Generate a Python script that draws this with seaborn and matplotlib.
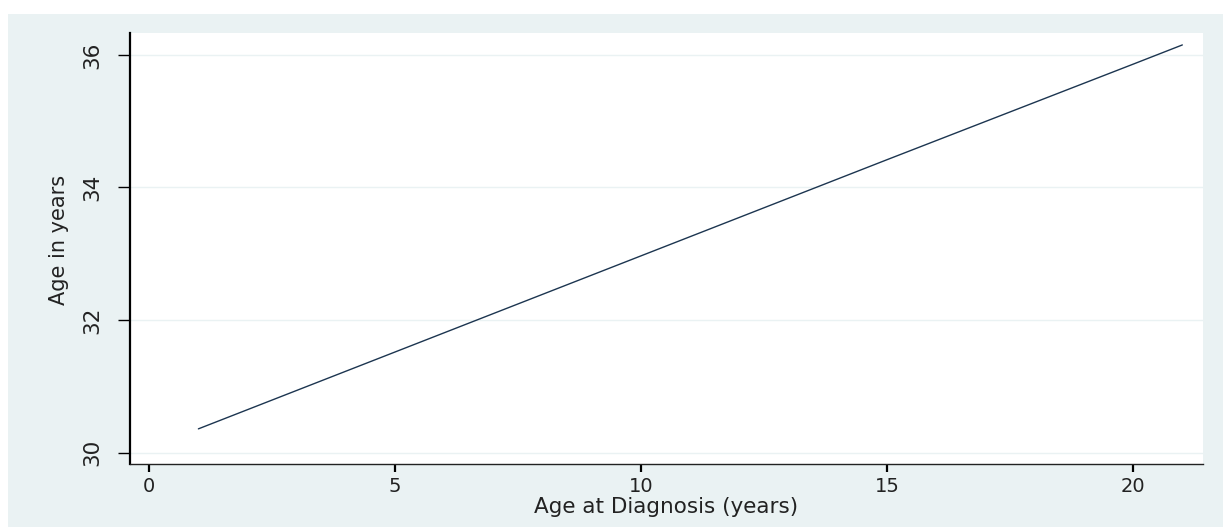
import numpy as np
import pandas as pd
import matplotlib.pyplot as plt
import seaborn as sns
from matplotlib.patches import Rectangle

# ==============================
# Data
# ==============================
age_at_diagnosis = [1, 5, 10, 15, 20, 21]
age_in_years = [30.36, 31.52, 32.97, 34.42, 35.86, 36.15]
x_ticks = [0, 5, 10, 15, 20]
y_ticks = [30, 32, 34, 36]

df = pd.DataFrame({"diag": age_at_diagnosis, "age": age_in_years})

# ==============================
# Style
# ==============================
sns.set_style("white")
plt.rcParams['font.family'] = ['DejaVu Sans']

bg = "#eaf2f3"
fig = plt.figure(figsize=(12.23, 5.27), dpi=100, facecolor="white")
# Stata-like graph region (white strip on top and left), behind the axes
fig.patches.append(Rectangle((8 / 1223, 0), 1, 1 - 14 / 527,
                             transform=fig.transFigure, facecolor=bg,
                             edgecolor="none", zorder=-10))

ax = fig.add_axes([130 / 1223, 1 - 464 / 527, (1203 - 130) / 1223, (464 - 33) / 527])
ax.set_facecolor("white")

sns.lineplot(data=df, x="diag", y="age", ax=ax, color="#1c3550", linewidth=1.0)

ax.set_xlim(-0.39, 21.42)
ax.set_ylim(29.83, 36.33)
ax.set_xticks(x_ticks)
ax.set_yticks(y_ticks)
ax.set_yticklabels([str(v) for v in y_ticks], rotation=90, va="center")

# faint grid lines
for v in y_ticks:
    ax.axhline(v, color=bg, linewidth=1.0, zorder=0)

for s in ["top", "right"]:
    ax.spines[s].set_visible(False)
ax.spines["left"].set_color("black")
ax.spines["left"].set_linewidth(1.6)
ax.spines["bottom"].set_color("#222222")
ax.spines["bottom"].set_linewidth(1.0)

ax.tick_params(axis="x", direction="out", length=6, width=1.6, color="black",
               labelsize=14, pad=3.5, colors="#222222")
ax.tick_params(axis="y", direction="out", length=8.6, width=1.0, color="black",
               labelsize=15.5, pad=11, colors="#222222")
ax.tick_params(axis="both", bottom=True, left=True)

ax.set_xlabel("Age at Diagnosis (years)", fontsize=15.5, labelpad=0.5, color="#222222")
ax.set_ylabel("Age in years", fontsize=15, labelpad=10, color="#222222")
ax.yaxis.set_label_coords(-0.057, 0.52)

fig.savefig("out.png", dpi=100, facecolor=fig.get_facecolor())
